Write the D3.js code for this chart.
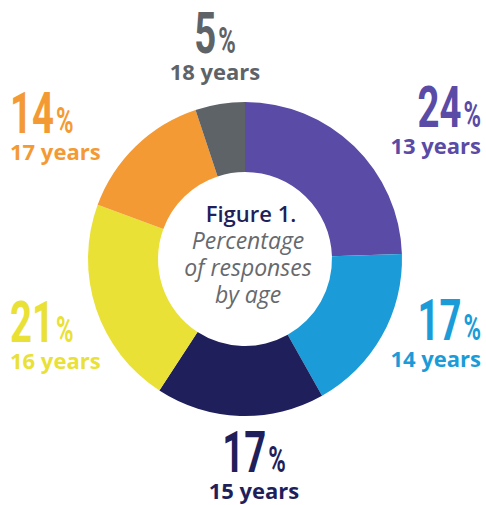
<!DOCTYPE html>
<html>
<head>
<meta charset="utf-8">
<script src="https://cdn.jsdelivr.net/npm/d3@7"></script>
<style>
  body { margin: 0; background: #fff; }
  svg { display: block; }
  .pct { font-family: Roboto, "DejaVu Sans", sans-serif; font-weight: bold; }
  .age { font-family: "Open Sans", sans-serif; font-weight: bold; }
  .title { font-family: "Open Sans", sans-serif; }
</style>
</head>
<body>
<div id="chart"></div>
<script>
// data
var ages = ["13 years", "14 years", "15 years", "16 years", "17 years", "18 years"];
var percents = [24, 17, 17, 21, 14, 5];
var colors = ["#5a4ba6", "#1b9cd8", "#1f1f5c", "#e9e135", "#f49a34", "#5e6368"];
var titleLines = ["Figure 1.", "Percentage", "of responses", "by age"];

var width = 486,
    height = 505,
    cx = 245,
    cy = 259,
    outerR = 157,
    innerR = 87,
    squeeze = 0.66;   // the big numbers use a very condensed face

// where each label block sits (anchor x, baseline of the big number, text-anchor)
var labelPos = [
  { x: 481, y: 127, anchor: "end" },
  { x: 481, y: 340, anchor: "end" },
  { x: 254, y: 472, anchor: "middle" },
  { x: 10,  y: 342, anchor: "start" },
  { x: 10,  y: 133, anchor: "start" },
  { x: 215, y: 53,  anchor: "middle" }
];

var svg = d3.select("#chart")
  .append("svg")
  .attr("width", width)
  .attr("height", height);

var pie = d3.pie()
  .sort(null)
  .value(function(d) { return d; });

var arc = d3.arc()
  .innerRadius(innerR)
  .outerRadius(outerR);

var color = d3.scaleOrdinal()
  .domain(d3.range(ages.length))
  .range(colors);

svg.append("g")
  .attr("transform", "translate(" + cx + "," + cy + ")")
  .selectAll("path")
  .data(pie(percents))
  .enter()
  .append("path")
  .attr("d", arc)
  .attr("fill", function(d, i) { return color(i); });

// labels
var labels = svg.selectAll("g.label")
  .data(percents)
  .enter()
  .append("g")
  .attr("class", "label")
  .attr("fill", function(d, i) { return color(i); });

var big = labels.append("g")
  .attr("transform", function(d, i) {
    return "translate(" + labelPos[i].x + "," + labelPos[i].y + ") scale(" + squeeze + ",1)";
  })
  .append("text")
  .attr("class", "pct")
  .attr("text-anchor", function(d, i) { return labelPos[i].anchor; });

big.append("tspan")
  .attr("font-size", "58px")
  .text(function(d) { return d; });
big.append("tspan")
  .attr("font-size", "36px")
  .attr("dx", 3)
  .text("%");

labels.append("text")
  .attr("class", "age")
  .attr("font-size", "22px")
  .attr("x", function(d, i) { return labelPos[i].x; })
  .attr("y", function(d, i) { return labelPos[i].y + 27; })
  .attr("text-anchor", function(d, i) { return labelPos[i].anchor; })
  .text(function(d, i) { return ages[i]; });

// centre title
svg.append("g")
  .selectAll("text")
  .data(titleLines)
  .enter()
  .append("text")
  .attr("class", "title")
  .attr("x", function(d, i) { return i === 0 ? 251 : 248; })
  .attr("y", function(d, i) { return 222 + i * 27; })
  .attr("text-anchor", "middle")
  .attr("font-size", function(d, i) { return i === 0 ? "22px" : "23px"; })
  .attr("font-weight", function(d, i) { return i === 0 ? 600 : 500; })
  .attr("font-style", function(d, i) { return i === 0 ? "normal" : "italic"; })
  .attr("fill", function(d, i) { return i === 0 ? "#1f1f5c" : "#66696e"; })
  .text(function(d) { return d; });
</script>
</body>
</html>
